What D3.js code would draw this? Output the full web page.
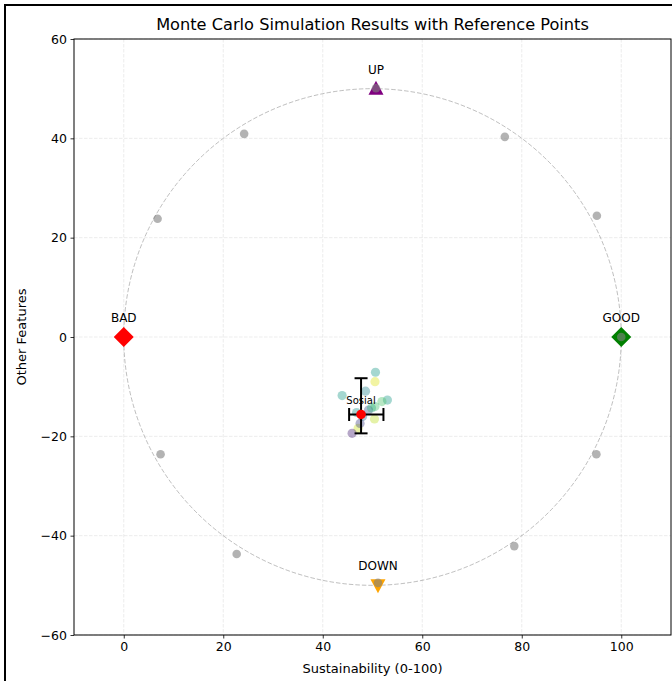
<!DOCTYPE html>
<html>
<head>
<meta charset="utf-8">
<script src="https://cdn.jsdelivr.net/npm/d3@7"></script>
<style>
  html, body { margin: 0; padding: 0; background: #fff; }
  svg { display: block; font-family: "DejaVu Sans", sans-serif; }
</style>
</head>
<body>
<svg id="chart" width="672" height="681"></svg>
<script>
// Reference points on the sustainability / other-features plane
const refNames  = ["BAD", "GOOD", "UP", "DOWN"];
const refX      = [0, 100, 50.7, 51.1];
const refY      = [0, 0, 50, -50];
const refColors = ["#ff0000", "#008000", "#800080", "#ffa500"];
const refShapes = ["diamond", "diamond", "up", "down"];

// Points sampled around the reference circle
const ringX = [24.2, 6.8, 76.6, 95.1, 7.4, 22.7, 78.5, 95.0, 50.7, 51.1, 100];
const ringY = [40.9, 23.8, 40.3, 24.4, -23.6, -43.7, -42.1, -23.6, 50.1, -49.5, 0];

// Monte Carlo runs for the "Sosial" scenario (colour value 0..1 on viridis)
const simX = [50.6, 50.5, 43.9, 48.6, 53.0, 51.9, 50.5, 49.2, 50.4, 47.1, 45.9, 47.5, 49.8, 48.0, 46.8];
const simY = [-7.1, -9.0, -11.8, -10.9, -12.7, -13.0, -14.0, -14.7, -16.5, -18.4, -19.4, -17.4, -14.3, -16.0, -15.2];
const simC = [0.55, 0.95, 0.55, 0.45, 0.55, 0.72, 0.7, 0.25, 0.9, 0.92, 0.1, 0.2, 0.65, 0.35, 0.5];

// Summary statistic with asymmetric interval
const meanX = 47.7, meanY = -15.6;
const xLow = 45.3, xHigh = 52.2;
const yLow = -19.4, yHigh = -8.3;
const summaryLabel = "Sosial";

const xTicks = [0, 20, 40, 60, 80, 100];
const yTicks = [-60, -40, -20, 0, 20, 40, 60];

const svg = d3.select("#chart");
const plotL = 74, plotR = 671, plotT = 39, plotB = 635;

const x = d3.scaleLinear().domain([-10, 110]).range([plotL, plotR]);
const y = d3.scaleLinear().domain([-60, 60]).range([plotB, plotT]);

// outer figure frame
svg.append("path")
  .attr("d", `M5,${681 + 5} V5 H${672 + 5}`)
  .attr("fill", "none").attr("stroke", "#000").attr("stroke-width", 2);

// grid
const grid = svg.append("g");
grid.selectAll("line.gx").data(xTicks).join("line").attr("class", "gx")
  .attr("x1", d => x(d)).attr("x2", d => x(d))
  .attr("y1", plotT).attr("y2", plotB);
grid.selectAll("line.gy").data(yTicks).join("line").attr("class", "gy")
  .attr("y1", d => y(d)).attr("y2", d => y(d))
  .attr("x1", plotL).attr("x2", plotR);
grid.selectAll("line")
  .attr("stroke", "#b0b0b0").attr("stroke-opacity", 0.3)
  .attr("stroke-width", 0.8).attr("stroke-dasharray", "3.5,1.5");

// reference circle centred at (50, 0) with radius 50
svg.append("ellipse")
  .attr("cx", x(50)).attr("cy", y(0))
  .attr("rx", x(100) - x(50)).attr("ry", y(0) - y(50))
  .attr("fill", "none").attr("stroke", "#808080").attr("stroke-opacity", 0.5)
  .attr("stroke-width", 1).attr("stroke-dasharray", "4.5,2");

// reference markers
const shapePath = (s) => {
  if (s === "diamond") return "M0,-10 L10,0 L0,10 L-10,0 Z";
  if (s === "up") return "M0,-8 L7.5,6 L-7.5,6 Z";
  return "M0,8 L7.5,-6 L-7.5,-6 Z";
};
svg.append("g").selectAll("path").data(refNames).join("path")
  .attr("transform", (d, i) => `translate(${x(refX[i])},${y(refY[i])})`)
  .attr("d", (d, i) => shapePath(refShapes[i]))
  .attr("fill", (d, i) => refColors[i]);

// ring samples
svg.append("g").selectAll("circle").data(ringX).join("circle")
  .attr("cx", (d, i) => x(d)).attr("cy", (d, i) => y(ringY[i]))
  .attr("r", 4.3).attr("fill", "#808080").attr("fill-opacity", 0.6);

// simulation runs
svg.append("g").selectAll("circle").data(simX).join("circle")
  .attr("cx", (d, i) => x(d)).attr("cy", (d, i) => y(simY[i]))
  .attr("r", 4.6).attr("fill", (d, i) => d3.interpolateViridis(simC[i]))
  .attr("fill-opacity", 0.4);

// error bars
const eb = svg.append("g").attr("stroke", "#000").attr("stroke-width", 2);
const cap = 6.5;
eb.append("line").attr("x1", x(meanX)).attr("x2", x(meanX)).attr("y1", y(yLow)).attr("y2", y(yHigh));
eb.append("line").attr("x1", x(meanX) - cap).attr("x2", x(meanX) + cap).attr("y1", y(yLow)).attr("y2", y(yLow));
eb.append("line").attr("x1", x(meanX) - cap).attr("x2", x(meanX) + cap).attr("y1", y(yHigh)).attr("y2", y(yHigh));
eb.append("line").attr("x1", x(xLow)).attr("x2", x(xHigh)).attr("y1", y(meanY)).attr("y2", y(meanY));
eb.append("line").attr("x1", x(xLow)).attr("x2", x(xLow)).attr("y1", y(meanY) - cap).attr("y2", y(meanY) + cap);
eb.append("line").attr("x1", x(xHigh)).attr("x2", x(xHigh)).attr("y1", y(meanY) - cap).attr("y2", y(meanY) + cap);

svg.append("circle").attr("cx", x(meanX)).attr("cy", y(meanY)).attr("r", 4.8).attr("fill", "#ff0000");

svg.append("text").attr("x", x(meanX)).attr("y", y(meanY) - 10)
  .attr("text-anchor", "middle").attr("font-size", 10).attr("fill", "#000")
  .text(summaryLabel);

// reference labels
svg.append("g").selectAll("text").data(refNames).join("text")
  .attr("x", (d, i) => x(refX[i]))
  .attr("y", (d, i) => y(refY[i]) - 15)
  .attr("text-anchor", "middle").attr("font-size", 12).attr("fill", "#000")
  .text(d => d);

// axes
const fmt = d => d3.format("d")(d).replace("-", "\u2212");
const xAxis = d3.axisBottom(x).tickValues(xTicks).tickSize(3.5).tickPadding(3.5).tickFormat(fmt);
const yAxis = d3.axisLeft(y).tickValues(yTicks).tickSize(3.5).tickPadding(3.5).tickFormat(fmt);

const gx = svg.append("g").attr("transform", `translate(0,${plotB})`).call(xAxis);
const gy = svg.append("g").attr("transform", `translate(${plotL},0)`).call(yAxis);
[gx, gy].forEach(g => {
  g.select(".domain").remove();
  g.selectAll("text").attr("font-size", 12.5).attr("font-family", "DejaVu Sans").attr("fill", "#000");
  g.selectAll("line").attr("stroke", "#000").attr("stroke-width", 0.8);
});

// spines
svg.append("rect").attr("x", plotL).attr("y", plotT)
  .attr("width", plotR - plotL).attr("height", plotB - plotT)
  .attr("fill", "none").attr("stroke", "#000").attr("stroke-width", 1);

// titles
svg.append("text").attr("x", (plotL + plotR) / 2).attr("y", 30)
  .attr("text-anchor", "middle").attr("font-size", 16.2).attr("fill", "#000")
  .text("Monte Carlo Simulation Results with Reference Points");
svg.append("text").attr("x", (plotL + plotR) / 2).attr("y", 673)
  .attr("text-anchor", "middle").attr("font-size", 13).attr("fill", "#000")
  .text("Sustainability (0-100)");
svg.append("text").attr("transform", `translate(26,${(plotT + plotB) / 2}) rotate(-90)`)
  .attr("text-anchor", "middle").attr("font-size", 13).attr("fill", "#000")
  .text("Other Features");
</script>
</body>
</html>
